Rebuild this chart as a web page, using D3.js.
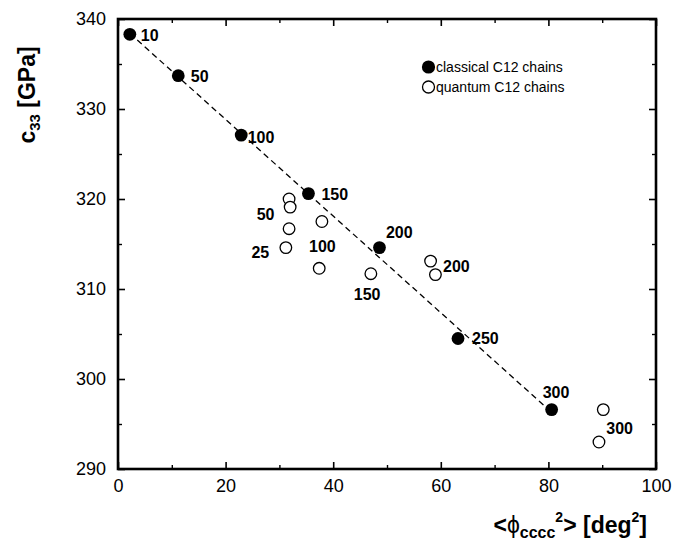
<!DOCTYPE html>
<html>
<head>
<meta charset="utf-8">
<script src="https://cdn.jsdelivr.net/npm/d3@7/dist/d3.min.js"></script>
<style>
  html, body { margin: 0; padding: 0; background: #fff; }
  svg { display: block; font-family: "Liberation Sans", Arial, Helvetica, sans-serif; }
</style>
</head>
<body>
<svg id="chart" width="675" height="546"></svg>
<script>
// Classical C12 chains: mean squared torsion angle vs. elastic constant c33
const classicalPhi = [2.2, 11.2, 22.9, 35.4, 48.6, 63.2, 80.6];
const classicalC33 = [338.3, 333.7, 327.1, 320.6, 314.6, 304.5, 296.6];
const classicalT   = ["10", "50", "100", "150", "200", "250", "300"];

// Quantum C12 chains
const quantumPhi = [31.8, 32.0, 31.8, 31.2, 37.9, 37.4, 47.0, 58.1, 59.0, 90.2, 89.4];
const quantumC33 = [320.0, 319.1, 316.7, 314.6, 317.5, 312.3, 311.7, 313.1, 311.6, 296.6, 293.0];
const quantumT   = ["50", "50", "25", "25", "100", "100", "150", "200", "200", "300", "300"];
const quantumLabelled = [1, 3, 5, 6, 8, 10];

// Linear fit through the classical points
const fitPhi = [2.2, 80.6];
const fitC33 = [338.4, 296.3];

// Axis ticks
const xMajor = [0, 20, 40, 60, 80, 100];
const xMinor = [10, 30, 50, 70, 90];
const yMajor = [290, 300, 310, 320, 330, 340];
const yMinor = [295, 305, 315, 325, 335];

const legendLabels = ["classical C12 chains", "quantum C12 chains"];

// ---- layout ----
const svg = d3.select("#chart");
const plot = { left: 118, right: 656, top: 19, bottom: 469 };

const x = d3.scaleLinear().domain([0, 100]).range([plot.left, plot.right]);
const y = d3.scaleLinear().domain([290, 340]).range([plot.bottom, plot.top]);

// label placement next to each marker: [anchor, dx, dy] in pixels
const classicalLabelPos = [
  ["start", 11, 1.5], ["start", 12.5, 1], ["start", 6.5, 2], ["start", 13, 0.7],
  ["start", 6.5, -15.6], ["start", 14, 0], ["start", -9, -17]
];
const quantumLabelPos = {
  1: ["end", -15.7, 6.9],
  3: ["end", -16.6, 4.7],
  5: ["start", -10.2, -22.3],
  6: ["middle", -3.7, 20.3],
  8: ["start", 7.6, -7.9],
  10: ["start", 7.3, -13.7]
};

// ---- axes (ticks point inward on all four sides) ----
function styleAxis(g, width) {
  g.select(".domain").remove();
  g.selectAll(".tick line").attr("stroke", "#000").attr("stroke-width", width);
}

const axisLayer = svg.append("g");

axisLayer.append("g")
  .attr("transform", `translate(0,${plot.bottom})`)
  .call(d3.axisBottom(x).tickValues(xMajor).tickSize(-7).tickPadding(10).tickFormat(d3.format("d")))
  .call(g => styleAxis(g, 1.6))
  .call(g => g.selectAll("text").attr("font-size", 18).attr("fill", "#000")
    .attr("font-family", "Liberation Sans, Arial, sans-serif"));
axisLayer.append("g")
  .attr("transform", `translate(0,${plot.bottom})`)
  .call(d3.axisBottom(x).tickValues(xMinor).tickSize(-4).tickFormat(""))
  .call(g => styleAxis(g, 1.4));
axisLayer.append("g")
  .attr("transform", `translate(0,${plot.top})`)
  .call(d3.axisTop(x).tickValues(xMajor).tickSize(-7).tickFormat(""))
  .call(g => styleAxis(g, 1.6));
axisLayer.append("g")
  .attr("transform", `translate(0,${plot.top})`)
  .call(d3.axisTop(x).tickValues(xMinor).tickSize(-4).tickFormat(""))
  .call(g => styleAxis(g, 1.4));

axisLayer.append("g")
  .attr("transform", `translate(${plot.left},0)`)
  .call(d3.axisLeft(y).tickValues(yMajor).tickSize(-7).tickPadding(12).tickFormat(d3.format("d")))
  .call(g => styleAxis(g, 1.6))
  .call(g => g.selectAll("text").attr("font-size", 18).attr("fill", "#000")
    .attr("font-family", "Liberation Sans, Arial, sans-serif"));
axisLayer.append("g")
  .attr("transform", `translate(${plot.left},0)`)
  .call(d3.axisLeft(y).tickValues(yMinor).tickSize(-4).tickFormat(""))
  .call(g => styleAxis(g, 1.4));
axisLayer.append("g")
  .attr("transform", `translate(${plot.right},0)`)
  .call(d3.axisRight(y).tickValues(yMajor).tickSize(-7).tickFormat(""))
  .call(g => styleAxis(g, 1.6));
axisLayer.append("g")
  .attr("transform", `translate(${plot.right},0)`)
  .call(d3.axisRight(y).tickValues(yMinor).tickSize(-4).tickFormat(""))
  .call(g => styleAxis(g, 1.4));

// plot frame
svg.append("rect")
  .attr("x", plot.left).attr("y", plot.top)
  .attr("width", plot.right - plot.left).attr("height", plot.bottom - plot.top)
  .attr("fill", "none").attr("stroke", "#000").attr("stroke-width", 2.6);

// ---- fit line ----
const fitData = fitPhi.map((p, i) => [p, fitC33[i]]);
svg.append("path")
  .datum(fitData)
  .attr("d", d3.line().x(d => x(d[0])).y(d => y(d[1])))
  .attr("fill", "none").attr("stroke", "#000").attr("stroke-width", 1.3)
  .attr("stroke-dasharray", "6,4");

// ---- markers ----
const classical = classicalPhi.map((p, i) => ({ phi: p, c33: classicalC33[i], t: classicalT[i], pos: classicalLabelPos[i] }));
const quantum = quantumPhi.map((p, i) => ({ phi: p, c33: quantumC33[i], t: quantumT[i], pos: quantumLabelPos[i] }));

svg.append("g").selectAll("circle").data(quantum).join("circle")
  .attr("cx", d => x(d.phi)).attr("cy", d => y(d.c33)).attr("r", 5.8)
  .attr("fill", "#fff").attr("stroke", "#000").attr("stroke-width", 1.3);

svg.append("g").selectAll("circle").data(classical).join("circle")
  .attr("cx", d => x(d.phi)).attr("cy", d => y(d.c33)).attr("r", 6.4)
  .attr("fill", "#000");

// ---- temperature labels ----
const labelled = classical.concat(quantumLabelled.map(i => quantum[i]));
svg.append("g").selectAll("text").data(labelled).join("text")
  .attr("x", d => x(d.phi) + d.pos[1])
  .attr("y", d => y(d.c33) + d.pos[2])
  .attr("text-anchor", d => d.pos[0])
  .attr("dominant-baseline", "central")
  .attr("font-size", 16).attr("font-weight", "bold")
  .text(d => d.t);

// ---- legend ----
const legend = svg.append("g").attr("transform", "translate(428.5,67)");
legendLabels.forEach((lab, i) => {
  const row = legend.append("g").attr("transform", `translate(0,${i * 20})`);
  row.append("circle").attr("r", i === 0 ? 6.6 : 6)
    .attr("fill", i === 0 ? "#000" : "#fff")
    .attr("stroke", "#000").attr("stroke-width", i === 0 ? 0 : 1.3);
  row.append("text").attr("x", 7.5).attr("dominant-baseline", "central")
    .attr("font-size", 14).text(lab);
});

// ---- axis titles ----
const xTitle = svg.append("text")
  .attr("x", 647).attr("y", 533)
  .attr("text-anchor", "end")
  .attr("font-size", 23).attr("font-weight", "bold");
xTitle.append("tspan").text("<");
xTitle.append("tspan").attr("font-weight", "normal").text("ϕ");
xTitle.append("tspan").attr("font-size", 16).attr("dy", 5).text("cccc");
xTitle.append("tspan").attr("font-size", 14).attr("dy", -16).text("2");
xTitle.append("tspan").attr("dy", 11).text("> [deg");
xTitle.append("tspan").attr("font-size", 14).attr("dy", -11).text("2");
xTitle.append("tspan").attr("dy", 11).text("]");

const yTitle = svg.append("text")
  .attr("transform", "translate(35,95) rotate(-90)")
  .attr("text-anchor", "middle")
  .attr("font-size", 23).attr("font-weight", "bold");
yTitle.append("tspan").text("c");
yTitle.append("tspan").attr("font-size", 15).attr("dy", 5).text("33");
yTitle.append("tspan").attr("dy", -5).text(" [GPa]");
</script>
</body>
</html>
